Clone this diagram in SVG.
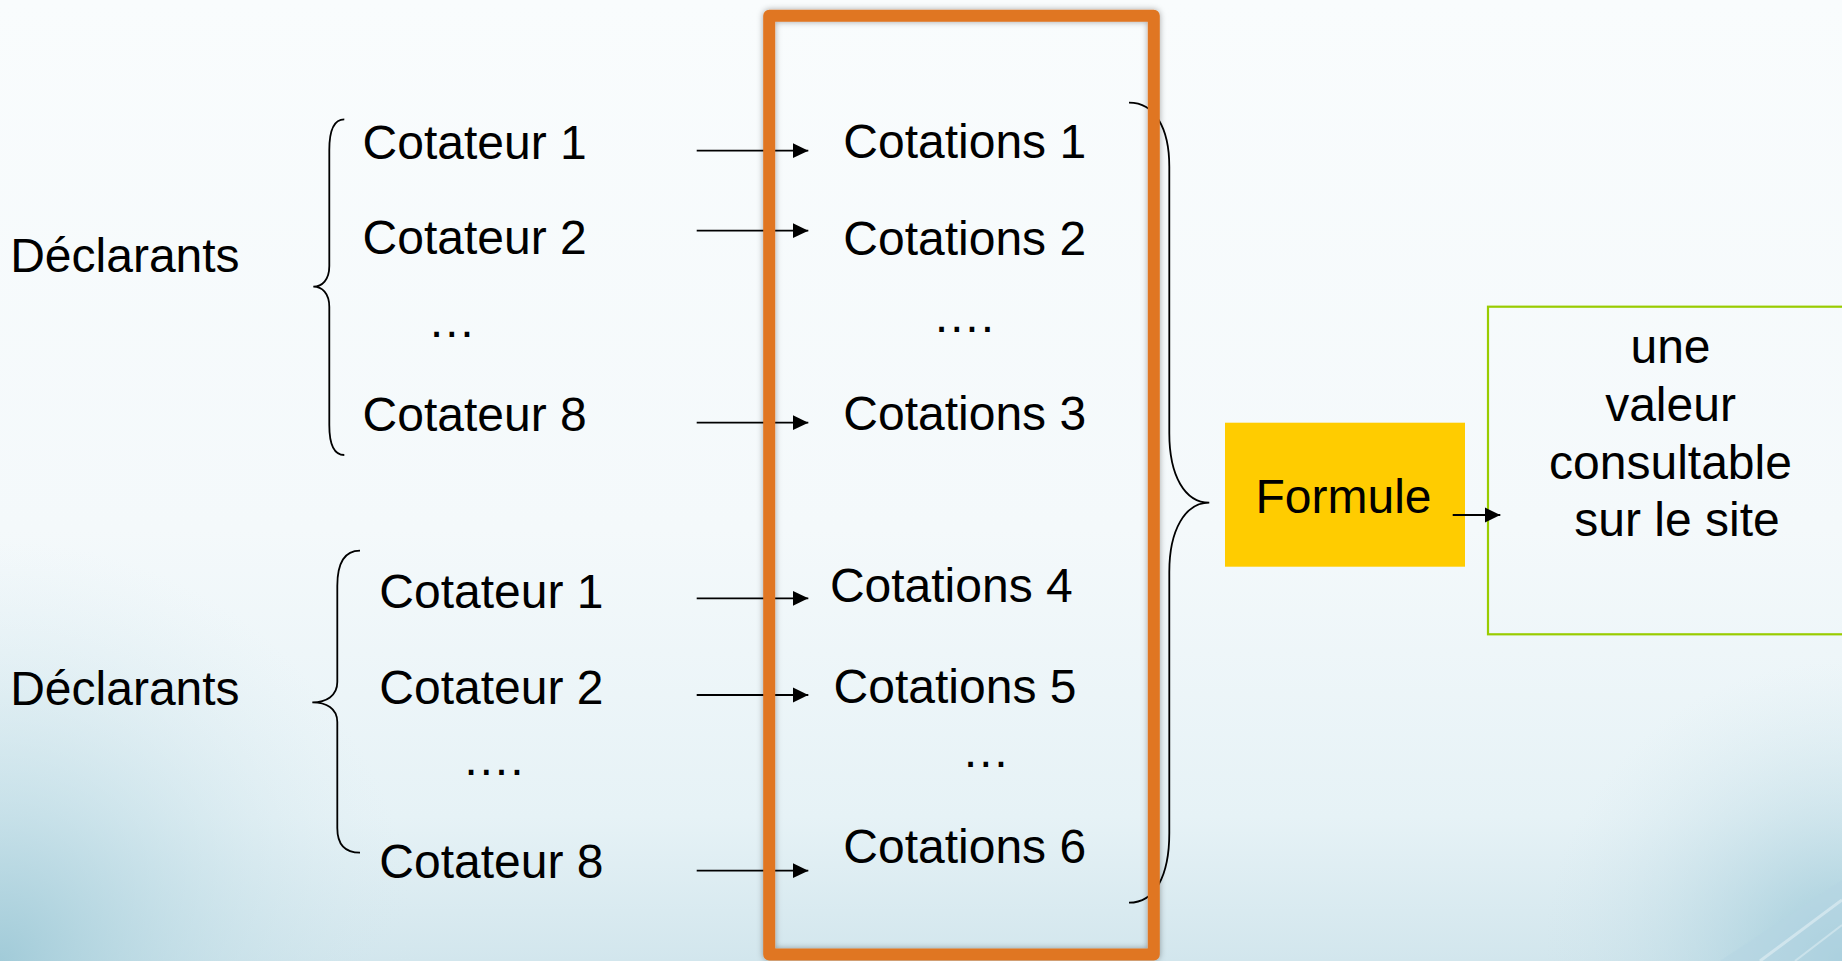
<svg xmlns="http://www.w3.org/2000/svg" width="1842" height="961" viewBox="0 0 1842 961">
<defs>
<linearGradient id="bgv" x1="0" y1="0" x2="0" y2="1">
<stop offset="0" stop-color="#F9FCFD"/>
<stop offset="0.55" stop-color="#F4F9FB"/>
<stop offset="0.85" stop-color="#E6F2F6"/>
<stop offset="1" stop-color="#D2E6ED"/>
</linearGradient>
<radialGradient id="bgl" cx="0" cy="961" r="420" gradientUnits="userSpaceOnUse">
<stop offset="0" stop-color="#9CC8D6" stop-opacity="0.9"/>
<stop offset="0.5" stop-color="#B9D9E3" stop-opacity="0.45"/>
<stop offset="1" stop-color="#D8EAF0" stop-opacity="0"/>
</radialGradient>
<radialGradient id="bgr" cx="1842" cy="961" r="300" gradientUnits="userSpaceOnUse">
<stop offset="0" stop-color="#8FC2D3" stop-opacity="0.8"/>
<stop offset="1" stop-color="#CFE4EB" stop-opacity="0"/>
</radialGradient>
<filter id="shadow" x="-5%" y="-5%" width="110%" height="110%">
<feGaussianBlur in="SourceAlpha" stdDeviation="3"/>
<feOffset dx="0" dy="0" result="b"/>
<feFlood flood-color="#000" flood-opacity="0.35"/>
<feComposite in2="b" operator="in"/>
<feMerge><feMergeNode/><feMergeNode in="SourceGraphic"/></feMerge>
</filter>
<marker id="arr" markerUnits="userSpaceOnUse" markerWidth="16" markerHeight="16" viewBox="0 0 16 16" refX="15.5" refY="8" orient="auto">
<path d="M0,0.5 L15.5,8 L0,15.5 Z" fill="#000"/>
</marker>
</defs>
<style>
text { font-family: "Liberation Sans", Arial, sans-serif; font-size: 48px; fill: #000; }
.mid { text-anchor: middle; }
.brace { fill: none; stroke: #000; stroke-width: 1.8; }
.conn { stroke: #000; stroke-width: 1.8; fill: none; marker-end: url(#arr); }
</style>

<g id="background">
<rect x="0" y="0" width="1842" height="961" fill="url(#bgv)"/>
<rect x="0" y="500" width="600" height="461" fill="url(#bgl)"/>
<rect x="1500" y="650" width="342" height="311" fill="url(#bgr)"/>
<path d="M1842,880 L1842,961 L1720,961 Z" fill="#B5D6E2" opacity="0.6"/>
<path d="M1842,900 L1760,961" stroke="#E4F1F5" stroke-width="3" opacity="0.6"/>
<path d="M1842,925 L1795,961" stroke="#E4F1F5" stroke-width="2" opacity="0.5"/>
</g>

<g id="braces">
<path class="brace" d="M344.3,119.3 C334,119.3 329.3,130 329.3,150 L329.3,266 C329.3,280 322,286.7 313.3,286.7 C322,286.7 329.3,293 329.3,307 L329.3,425 C329.3,445 334,455 344.3,455"/>
<path class="brace" d="M360,550.7 C345,550.7 337.3,563 337.3,586 L337.3,682 C337.3,696 326,702.3 312.3,702.3 C326,702.3 337.3,708 337.3,722 L337.3,828 C337.3,845 345,852.7 360,852.7"/>
<path class="brace" d="M1129,102.7 C1155,102.7 1169.3,128 1169.3,166.7 L1169.3,433 C1169.3,476 1185,502.7 1209.3,502.7 C1185,502.7 1169.3,530 1169.3,572 L1169.3,833 C1169.3,876 1155,902.7 1129,902.7"/>
</g>

<g id="formule">
<rect x="1225" y="422.7" width="240" height="144" fill="#FFCC00"/>
<text x="1255.5" y="512.7">Formule</text>
</g>

<g id="valeur">
<rect x="1488" y="306.7" width="380" height="327.6" fill="none" stroke="#99CC00" stroke-width="2.2"/>
<text class="mid" x="1670.5" y="362.7">une</text>
<text class="mid" x="1670.5" y="420.7">valeur</text>
<text class="mid" x="1670.5" y="479">consultable</text>
<text class="mid" x="1677" y="536">sur le site</text>
</g>

<g id="connectors">
<line class="conn" x1="696.7" y1="150.7" x2="808.3" y2="150.7"/>
<line class="conn" x1="696.7" y1="230.7" x2="808.3" y2="230.7"/>
<line class="conn" x1="696.7" y1="422.7" x2="808.3" y2="422.7"/>
<line class="conn" x1="696.7" y1="598.3" x2="808.3" y2="598.3"/>
<line class="conn" x1="696.7" y1="695" x2="808.3" y2="695"/>
<line class="conn" x1="696.7" y1="870.7" x2="808.3" y2="870.7"/>
<line class="conn" x1="1452.7" y1="515" x2="1500.3" y2="515"/>
</g>

<g id="cotations-frame">
<rect x="769.2" y="15.8" width="384.6" height="938.7" fill="none" stroke="#E07620" stroke-width="12" stroke-linejoin="round" filter="url(#shadow)"/>
</g>

<g id="declarants-1"><text x="10.2" y="271.7">Déclarants</text></g>
<g id="declarants-2"><text x="10.2" y="705">Déclarants</text></g>

<g id="cotateur-1a"><text x="362.6" y="159.3">Cotateur 1</text></g>
<g id="cotateur-2a"><text x="362.6" y="254">Cotateur 2</text></g>
<g id="dots-a"><text x="427.8" y="336.7">…</text></g>
<g id="cotateur-8a"><text x="362.6" y="430.7">Cotateur 8</text></g>

<g id="cotateur-1b"><text x="379.3" y="608.3">Cotateur 1</text></g>
<g id="cotateur-2b"><text x="379.3" y="704">Cotateur 2</text></g>
<g id="dots-b"><text x="462.2" y="775">….</text></g>
<g id="cotateur-8b"><text x="379.3" y="878.3">Cotateur 8</text></g>

<g id="cotations-1"><text x="843.3" y="158.3">Cotations 1</text></g>
<g id="cotations-2"><text x="843.3" y="255">Cotations 2</text></g>
<g id="dots-c"><text x="932.8" y="331.7">….</text></g>
<g id="cotations-3"><text x="843.3" y="430">Cotations 3</text></g>
<g id="cotations-4"><text x="829.9" y="601.7">Cotations 4</text></g>
<g id="cotations-5"><text x="833.6" y="703.3">Cotations 5</text></g>
<g id="dots-d"><text x="961.8" y="766.7">…</text></g>
<g id="cotations-6"><text x="843.3" y="863.3">Cotations 6</text></g>
</svg>
